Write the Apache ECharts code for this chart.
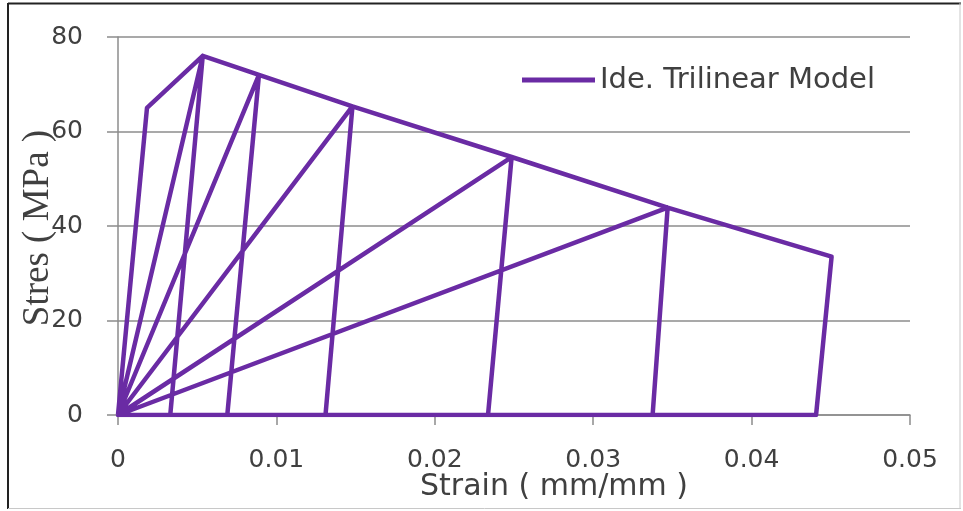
<!DOCTYPE html>
<html>
<head>
<meta charset="utf-8">
<script src="https://cdn.jsdelivr.net/npm/echarts@6/dist/echarts.min.js"></script>
<style>
html,body{margin:0;padding:0;background:#fff;}
#chart{width:963px;height:511px;}
</style>
</head>
<body>
<div id="chart"></div>
<script>
// Path of the idealized trilinear model (strain, stress)
const strainValues = [0, 0.00183, 0.00535, 0.0033, 0, 0.00535, 0.0089, 0.0069, 0, 0.0089, 0.0148, 0.0131, 0, 0.0148, 0.02485, 0.02336, 0, 0.02485, 0.0347, 0.03375, 0, 0.0347, 0.04505, 0.04407, 0];
const stressValues = [0, 65, 76, 0, 0, 76, 72, 0, 0, 72, 65.3, 0, 0, 65.3, 54.6, 0, 0, 54.6, 43.9, 0, 0, 43.9, 33.5, 0, 0];
const xTicks = [0, 0.01, 0.02, 0.03, 0.04, 0.05];
const yTicks = [0, 20, 40, 60, 80];
const seriesName = 'Ide. Trilinear Model';

const points = strainValues.map((x, i) => [x, stressValues[i]]);
const purple = '#6a2ba4';
const gridGray = '#8c8c8c';
const labelColor = '#404040';

const chart = echarts.init(document.getElementById('chart'));
chart.setOption({
  backgroundColor: '#ffffff',
  animation: false,
  grid: {left: 118, right: 53, top: 37, bottom: 96, containLabel: false},
  legend: {
    data: [seriesName],
    left: 522, top: 65, padding: 0,
    icon: 'rect', itemWidth: 73, itemHeight: 5, itemGap: 5,
    textStyle: {fontFamily: 'DejaVu Sans', fontSize: 29, color: labelColor, lineHeight: 30}
  },
  xAxis: {
    type: 'value', min: xTicks[0], max: xTicks[xTicks.length - 1], interval: 0.01,
    axisLine: {show: true, onZero: false, lineStyle: {color: gridGray, width: 1.5}},
    axisTick: {show: true, length: 10, inside: false, lineStyle: {color: gridGray, width: 1.5}},
    splitLine: {show: false},
    axisLabel: {
      margin: 33, color: labelColor, fontFamily: 'DejaVu Sans', fontSize: 25,
      formatter: v => String(xTicks.find(t => Math.abs(t - v) < 1e-9) ?? v)
    }
  },
  yAxis: {
    type: 'value', min: yTicks[0], max: yTicks[yTicks.length - 1], interval: 20,
    axisLine: {show: true, lineStyle: {color: gridGray, width: 1.5}},
    axisTick: {show: true, length: 11, inside: false, lineStyle: {color: gridGray, width: 1.5}},
    splitLine: {show: true, lineStyle: {color: gridGray, width: 1.5}},
    axisLabel: {margin: 35, color: labelColor, fontFamily: 'DejaVu Sans', fontSize: 25}
  },
  series: [{
    name: seriesName,
    type: 'line',
    data: points,
    showSymbol: false,
    symbol: 'none',
    lineStyle: {color: purple, width: 4.5, join: 'round'},
    itemStyle: {color: purple}
  }],
  graphic: [
    {type: 'line', shape: {x1: 8, y1: 3.5, x2: 961, y2: 3.5}, style: {stroke: '#222', lineWidth: 2}, z: 100},
    {type: 'line', shape: {x1: 8, y1: 3, x2: 8, y2: 509}, style: {stroke: '#222', lineWidth: 2}, z: 100},
    {type: 'line', shape: {x1: 960, y1: 3, x2: 960, y2: 509}, style: {stroke: '#c8c8c8', lineWidth: 1}, z: 100},
    {type: 'line', shape: {x1: 8, y1: 508.5, x2: 961, y2: 508.5}, style: {stroke: '#c8c8c8', lineWidth: 1}, z: 100},
    {
      type: 'text', x: 554, y: 487, z: 100,
      style: {text: 'Strain ( mm/mm )', fontFamily: 'DejaVu Sans', fontSize: 30, fill: labelColor, align: 'center', verticalAlign: 'middle'}
    },
    {
      type: 'text', x: 38, y: 228, rotation: Math.PI / 2, z: 100,
      style: {text: 'Stres ( MPa )', fontFamily: 'Liberation Serif', fontSize: 37, fill: labelColor, align: 'center', verticalAlign: 'middle'}
    }
  ]
});
</script>
</body>
</html>
